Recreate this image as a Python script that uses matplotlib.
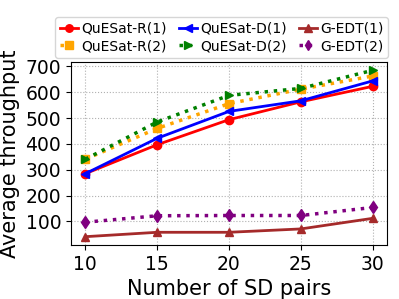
import matplotlib
matplotlib.use("Agg")
import matplotlib.pyplot as plt

x = [10, 15, 20, 25, 30]
quesat_r1 = [285, 397, 494, 563, 623]
quesat_r2 = [341, 460, 556, 612, 663]
quesat_d1 = [285, 422, 526, 567, 644]
quesat_d2 = [341, 485, 588, 615, 685]
gedt1 = [41, 58, 58, 71, 112]
gedt2 = [97, 122, 123, 123, 154]

fig = plt.figure(figsize=(3.99, 2.99), dpi=100)
ax = fig.add_axes([71/399, 1-245/299, (387-71)/399, (245-62)/299])

ax.plot(x, quesat_r1, color='red', marker='o', ls='-', lw=2, ms=6, label='QuESat-R(1)')
ax.plot(x, quesat_r2, color='orange', marker='s', ls=':', lw=2.5, ms=6, label='QuESat-R(2)')
ax.plot(x, quesat_d1, color='blue', marker='<', ls='-', lw=2, ms=6, label='QuESat-D(1)')
ax.plot(x, quesat_d2, color='green', marker='>', ls=':', lw=2.5, ms=6, label='QuESat-D(2)')
ax.plot(x, gedt1, color='brown', marker='^', ls='-', lw=2, ms=6, label='G-EDT(1)')
ax.plot(x, gedt2, color='purple', marker='d', ls=':', lw=2.5, ms=6, label='G-EDT(2)')

ax.set_xticks(x)
ax.set_yticks([100, 200, 300, 400, 500, 600, 700])
ax.tick_params(labelsize=13.5)
ax.grid(True, ls=':', color='#b0b0b0', lw=0.8)
ax.set_xlabel('Number of SD pairs', fontsize=15)
ax.set_ylabel('Average throughput', fontsize=15)

h, l = ax.get_legend_handles_labels()
fig.legend(h, l, ncol=3, fontsize=10, loc='upper right', bbox_to_anchor=(388/399, 1-17/299),
           handlelength=1.3, handletextpad=0.2, columnspacing=0.9, labelspacing=0.25,
           borderpad=0.35, borderaxespad=0, markerscale=0.9)

fig.savefig('out.png', dpi=100)
